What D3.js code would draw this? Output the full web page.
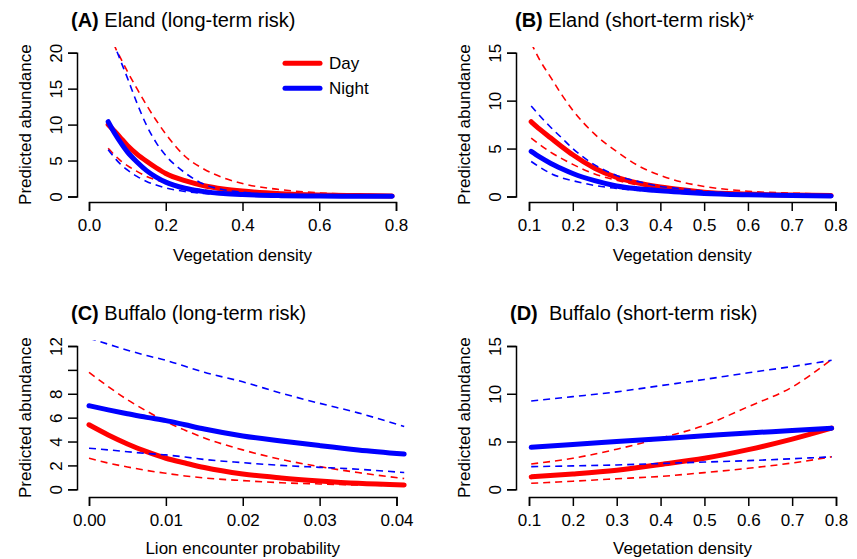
<!DOCTYPE html>
<html>
<head>
<meta charset="utf-8">
<script src="https://cdn.jsdelivr.net/npm/d3@7"></script>
<style>
  body { margin: 0; background: #fff; }
  svg { display: block; font-family: "Liberation Sans", Arial, sans-serif; }
</style>
</head>
<body>
<div id="chart"></div>
<script>
// panel A - eland, long-term risk
const xA = [0.05, 0.068, 0.08, 0.1, 0.125, 0.15, 0.175, 0.2, 0.25, 0.3, 0.35, 0.4, 0.5, 0.6, 0.7, 0.79];
const dayA = [10.0, 9.0, 8.3, 7.1, 5.9, 4.9, 4.0, 3.2, 2.2, 1.5, 1.05, 0.75, 0.4, 0.22, 0.13, 0.08];
const dayHiA = [24.5, 20.8, 19.5, 17.4, 15.0, 12.7, 10.6, 8.7, 5.6, 3.8, 2.6, 1.8, 0.95, 0.5, 0.3, 0.2];
const dayLoA = [6.7, 5.7, 5.1, 4.3, 3.5, 2.8, 2.3, 1.9, 1.3, 0.9, 0.62, 0.45, 0.25, 0.14, 0.08, 0.05];
const nightA = [10.4, 8.7, 7.7, 6.2, 4.8, 3.6, 2.7, 2.0, 1.15, 0.68, 0.42, 0.27, 0.12, 0.06, 0.03, 0.02];
const nightHiA = [25.0, 20.9, 19.2, 16.5, 13.0, 9.9, 7.5, 5.7, 3.3, 1.7, 0.95, 0.6, 0.2, 0.08, 0.04, 0.02];
const nightLoA = [6.5, 5.3, 4.6, 3.7, 2.8, 2.1, 1.6, 1.2, 0.7, 0.42, 0.26, 0.16, 0.06, 0.03, 0.01, 0.01];

// panel B - eland, short-term risk
const xB = [0.105, 0.125, 0.15, 0.175, 0.2, 0.25, 0.3, 0.35, 0.4, 0.45, 0.5, 0.6, 0.7, 0.79];
const dayB = [7.8, 7.0, 6.1, 5.2, 4.35, 2.95, 2.0, 1.4, 1.0, 0.7, 0.45, 0.25, 0.15, 0.1];
const dayHiB = [16.0, 14.2, 12.4, 10.6, 9.0, 6.5, 4.7, 3.2, 2.2, 1.5, 1.05, 0.55, 0.35, 0.25];
const dayLoB = [6.1, 5.4, 4.6, 3.95, 3.35, 2.35, 1.7, 1.2, 0.9, 0.65, 0.45, 0.25, 0.12, 0.06];
const nightB = [4.7, 4.1, 3.45, 2.9, 2.4, 1.65, 1.1, 0.8, 0.6, 0.45, 0.32, 0.18, 0.1, 0.06];
const nightHiB = [9.45, 8.4, 7.2, 6.1, 5.0, 3.3, 2.2, 1.55, 1.05, 0.8, 0.55, 0.3, 0.16, 0.1];
const nightLoB = [3.65, 3.05, 2.4, 1.95, 1.65, 1.15, 0.85, 0.62, 0.48, 0.38, 0.3, 0.15, 0.08, 0.04];

// panel C - buffalo, long-term risk
const xC = [0, 0.0025, 0.005, 0.0075, 0.01, 0.0125, 0.015, 0.02, 0.025, 0.03, 0.035, 0.041];
const dayC = [5.4, 4.55, 3.8, 3.15, 2.6, 2.2, 1.82, 1.28, 0.95, 0.7, 0.5, 0.36];
const dayHiC = [9.8, 8.6, 7.5, 6.55, 5.67, 4.95, 4.3, 3.3, 2.5, 1.9, 1.4, 0.9];
const dayLoC = [2.6, 2.2, 1.87, 1.58, 1.34, 1.12, 0.95, 0.73, 0.55, 0.45, 0.36, 0.3];
const nightC = [7.0, 6.65, 6.33, 6.02, 5.75, 5.4, 5.05, 4.47, 4.05, 3.66, 3.3, 2.95];
const nightHiC = [12.65, 12.15, 11.65, 11.2, 10.8, 10.3, 9.8, 9.0, 8.05, 7.2, 6.4, 5.25];
const nightLoC = [3.44, 3.3, 3.15, 3.0, 2.88, 2.7, 2.5, 2.23, 2.0, 1.84, 1.68, 1.4];

// panel D - buffalo, short-term risk
const xD = [0.105, 0.2, 0.3, 0.4, 0.5, 0.6, 0.7, 0.79];
const dayD = [1.3, 1.6, 2.0, 2.6, 3.25, 4.15, 5.25, 6.4];
const dayHiD = [2.65, 3.25, 4.2, 5.35, 6.7, 8.65, 10.7, 13.6];
const dayLoD = [0.63, 0.85, 1.1, 1.35, 1.75, 2.2, 2.75, 3.4];
const nightD = [4.4, 4.7, 5.0, 5.3, 5.6, 5.9, 6.15, 6.4];
const nightHiD = [9.25, 9.7, 10.2, 10.85, 11.5, 12.2, 12.85, 13.5];
const nightLoD = [2.37, 2.45, 2.55, 2.7, 2.85, 3.0, 3.2, 3.4];

// ticks
const vegTicks02 = [0, 0.2, 0.4, 0.6, 0.8];
const vegTicks01 = [0.1, 0.2, 0.3, 0.4, 0.5, 0.6, 0.7, 0.8];
const lionTicks = [0, 0.01, 0.02, 0.03, 0.04];
const yTicks20 = [0, 5, 10, 15, 20];
const yTicks15 = [0, 5, 10, 15];
const yTicks12 = [0, 2, 4, 6, 8, 10, 12];
const yLabels12 = ['0', '2', '4', '6', '8', '', '12'];

const panels = [
    { tag: '(A)', title: 'Eland (long-term risk)', gap: ' ', x: xA,
      series: [dayA, dayHiA, dayLoA, nightA, nightHiA, nightLoA],
      xTicks: vegTicks02, xFmt: d3.format('.1f'), xLabel: 'Vegetation density',
      yTicks: yTicks20, yLabels: null, left: 77, xr: [89, 396], yr: [196.5, 52.7],
      axisY: 202, titleX: 71, titleY: 27, xLabY: 260.5, legend: true },
    { tag: '(B)', title: 'Eland (short-term risk)*', gap: ' ', x: xB,
      series: [dayB, dayHiB, dayLoB, nightB, nightHiB, nightLoB],
      xTicks: vegTicks01, xFmt: d3.format('.1f'), xLabel: 'Vegetation density',
      yTicks: yTicks15, yLabels: null, left: 516, xr: [529, 835.5], yr: [196.5, 52.7],
      axisY: 202, titleX: 515, titleY: 27, xLabY: 260.5 },
    { tag: '(C)', title: 'Buffalo (long-term risk)', gap: ' ', x: xC,
      series: [dayC, dayHiC, dayLoC, nightC, nightHiC, nightLoC],
      xTicks: lionTicks, xFmt: d3.format('.2f'), xLabel: 'Lion encounter probability',
      yTicks: yTicks12, yLabels: yLabels12, left: 77, xr: [89, 396.5], yr: [489.3, 346],
      axisY: 497, titleX: 71, titleY: 320, xLabY: 553.5 },
    { tag: '(D)', title: 'Buffalo (short-term risk)', gap: '\u00a0 ', x: xD,
      series: [dayD, dayHiD, dayLoD, nightD, nightHiD, nightLoD],
      xTicks: vegTicks01, xFmt: d3.format('.1f'), xLabel: 'Vegetation density',
      yTicks: yTicks15, yLabels: null, left: 516, xr: [529, 836], yr: [489.3, 346],
      axisY: 497, titleX: 510, titleY: 320, xLabY: 554 }
];

const styles = [
    { color: '#ff0000', width: 5, dash: null },
    { color: '#ff0000', width: 1.6, dash: '7,5' },
    { color: '#ff0000', width: 1.6, dash: '7,5' },
    { color: '#0000ff', width: 5, dash: null },
    { color: '#0000ff', width: 1.6, dash: '7,5' },
    { color: '#0000ff', width: 1.6, dash: '7,5' }
];

const width = 857, height = 559;
const svg = d3.select('#chart').append('svg')
    .attr('width', width)
    .attr('height', height);

panels.forEach((p, i) => {
    const yMax = p.yTicks[p.yTicks.length - 1];
    const xScale = d3.scaleLinear()
        .domain([p.xTicks[0], p.xTicks[p.xTicks.length - 1]])
        .range(p.xr);
    const yScale = d3.scaleLinear().domain([0, yMax]).range(p.yr);

    const g = svg.append('g');

    // clip like R's plot region (4% headroom)
    const clipTop = yScale(yMax * 1.04);
    g.append('clipPath').attr('id', 'clip' + i)
        .append('rect')
        .attr('x', p.xr[0] - 20).attr('y', clipTop)
        .attr('width', p.xr[1] - p.xr[0] + 40)
        .attr('height', p.axisY - clipTop);

    const line = d3.line()
        .x((d, j) => xScale(p.x[j]))
        .y(d => yScale(d))
        .curve(d3.curveMonotoneX);

    const plot = g.append('g').attr('clip-path', `url(#clip${i})`);
    // red lines first, blue drawn over them
    [1, 2, 0, 4, 5, 3].forEach(k => {
        const s = styles[k];
        plot.append('path')
            .datum(p.series[k])
            .attr('d', line)
            .attr('fill', 'none')
            .attr('stroke', s.color)
            .attr('stroke-width', s.width)
            .attr('stroke-linecap', s.dash ? 'butt' : 'round')
            .attr('stroke-linejoin', 'round')
            .attr('stroke-dasharray', s.dash);
    });

    // x axis
    const xAxis = g.append('g')
        .attr('transform', `translate(0,${p.axisY})`)
        .call(d3.axisBottom(xScale).tickValues(p.xTicks).tickFormat(p.xFmt)
            .tickSizeOuter(0).tickSize(9));
    xAxis.selectAll('text').attr('y', 17).attr('dy', '0.71em');

    // y axis, labels rotated like R
    const yAxis = g.append('g')
        .attr('transform', `translate(${p.left},0)`)
        .call(d3.axisLeft(yScale).tickValues(p.yTicks)
            .tickFormat((d, j) => p.yLabels ? p.yLabels[j] : d)
            .tickSizeOuter(0).tickSize(9));
    yAxis.selectAll('text')
        .attr('x', 0).attr('y', -15).attr('dy', null)
        .attr('text-anchor', 'middle')
        .attr('transform', 'rotate(-90)');

    [xAxis, yAxis].forEach(a => {
        a.attr('font-size', 17).attr('font-family', null);
        a.selectAll('text').attr('fill', '#000');
        a.selectAll('path, line').attr('stroke', '#000').attr('stroke-width', 1.5);
    });

    // axis titles
    g.append('text')
        .attr('x', (p.xr[0] + p.xr[1]) / 2)
        .attr('y', p.xLabY)
        .attr('text-anchor', 'middle')
        .attr('font-size', 17)
        .text(p.xLabel);

    g.append('text')
        .attr('transform', `translate(${p.left - 46},${(p.yr[0] + p.yr[1]) / 2}) rotate(-90)`)
        .attr('text-anchor', 'middle')
        .attr('font-size', 17)
        .text('Predicted abundance');

    // panel title
    const t = g.append('text')
        .attr('x', p.titleX)
        .attr('y', p.titleY)
        .attr('font-size', 20)
        .attr('xml:space', 'preserve');
    t.append('tspan').attr('font-weight', 'bold').text(p.tag);
    t.append('tspan').text(p.gap + p.title);

    if (p.legend) {
        const leg = g.append('g');
        [['Day', '#ff0000', 63.3], ['Night', '#0000ff', 88.3]].forEach(([name, color, yy]) => {
            leg.append('line')
                .attr('x1', 285).attr('x2', 320)
                .attr('y1', yy).attr('y2', yy)
                .attr('stroke', color)
                .attr('stroke-width', 5)
                .attr('stroke-linecap', 'round');
            leg.append('text')
                .attr('x', 329).attr('y', yy + 6)
                .attr('font-size', 17)
                .text(name);
        });
    }
});
</script>
</body>
</html>
